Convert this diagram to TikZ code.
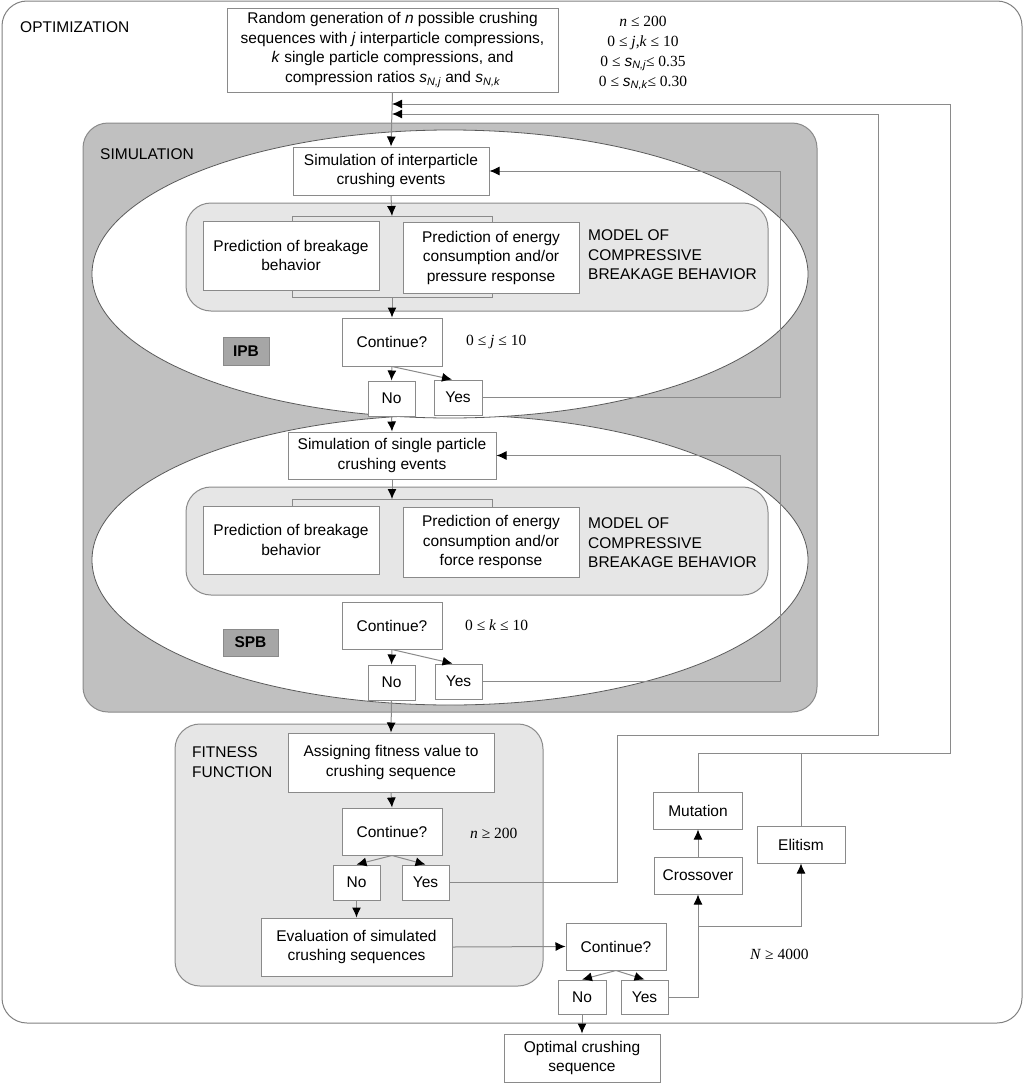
\documentclass[tikz,border=0pt]{standalone}
\usepackage{fontspec}
\setmainfont{Liberation Sans}
\newfontfamily\tms{Liberation Serif}
\newfontfamily\arl{Liberation Sans}
\usetikzlibrary{arrows.meta}
\definecolor{lg}{HTML}{8A8A8A}
\definecolor{eg}{HTML}{5A5A5A}
\definecolor{simfill}{HTML}{C0C0C0}
\definecolor{lightfill}{HTML}{E6E6E6}
\definecolor{tagfill}{HTML}{A6A6A6}
\newcommand{\sNj}{{\arl\itshape s\textsubscript{N,j}}}
\newcommand{\sNk}{{\arl\itshape s\textsubscript{N,k}}}
\begin{document}
\begin{tikzpicture}[x=1pt,y=-1pt,
  every node/.style={font=\fontsize{15.5}{19.5}\selectfont},
  box/.style={draw=lg, fill=white, line width=1pt, align=center, inner sep=0pt},
  lbl/.style={align=left, anchor=west, inner sep=0pt},
  tms/.style={font=\fontsize{15.5}{20}\selectfont\tms, align=center, inner sep=0pt},
  tag/.style={draw=lg, fill=tagfill, font=\fontsize{15.5}{19.5}\selectfont\bfseries, inner sep=0pt},
  arr/.style={draw=lg, line width=1pt, -{Latex[length=10pt,width=9pt,color=black]}},
  ln/.style={draw=lg, line width=1pt},
  region/.style={draw=lg, line width=1pt, rounded corners=25pt}
]
\useasboundingbox (0,0) rectangle (1024,1084);
% containers
\path[region, fill=white, draw=gray] (2,1) rectangle (1022,1023);
\node[lbl] (optlbl) at (20,27) {OPTIMIZATION};
\path[region, fill=simfill] (83,123) rectangle (817,712);
\node[lbl] (simlbl) at (100,154) {SIMULATION};
\path[draw=eg, line width=0.8pt, fill=white] (450,560) ellipse [x radius=358pt, y radius=145pt];
\path[draw=eg, line width=0.8pt, fill=white] (450,274) ellipse [x radius=358pt, y radius=144pt];
\path[region, fill=lightfill] (186,203) rectangle (768,311);
\path[region, fill=lightfill] (186,487) rectangle (768,595);
\path[region, fill=lightfill] (175,724) rectangle (543,986);
\node[lbl] (fitlbl) at (192,762) {FITNESS\\FUNCTION};
\path[ln] (292,216) rectangle (492,297);
\path[ln] (292,550) -- (292,499) -- (492,499) -- (492,550);

% top
\node[box, minimum width=331pt, minimum height=84pt] (rand) at (392.5,50)
  {Random generation of \textit{n} possible crushing\\sequences with \textit{j} interparticle compressions,\\\textit{k} single particle compressions, and\\compression ratios \sNj{} and \sNk};
\node[tms] (cons) at (643,53) {\textit{n} ≤ 200\\0 ≤ \textit{j},\textit{k} ≤ 10\\0 ≤ \sNj ≤ 0.35\\0 ≤ \sNk ≤ 0.30};

% IPB
\node[box, minimum width=196pt, minimum height=48pt] (sim1) at (391,171) {Simulation of interparticle\\crushing events};
\node[box, minimum width=176pt, minimum height=69pt] (pb1) at (291,255.5) {Prediction of breakage\\behavior};
\node[box, minimum width=176pt, minimum height=71pt] (pe1) at (491,257.5) {Prediction of energy\\consumption and/or\\pressure response};
\node[lbl] (mod1) at (588,255) {MODEL OF\\COMPRESSIVE\\BREAKAGE BEHAVIOR};
\node[box, minimum width=100pt, minimum height=48pt] (c1) at (392,342) {Continue?};
\node[box, minimum width=47pt, minimum height=35pt] (no1) at (391.5,398.5) {No};
\node[box, minimum width=48pt, minimum height=35pt] (yes1) at (458,397.5) {Yes};
\node[tag, minimum width=46pt, minimum height=28pt] (ipb) at (246,351) {IPB};
\node[tms, anchor=west] (jt) at (466,342) {0 ≤ \textit{j} ≤ 10};

% SPB
\node[box, minimum width=208pt, minimum height=47pt] (sim2) at (392,455.5) {Simulation of single particle\\crushing events};
\node[box, minimum width=176pt, minimum height=68pt] (pb2) at (291,540) {Prediction of breakage\\behavior};
\node[box, minimum width=176pt, minimum height=70pt] (pe2) at (491,542) {Prediction of energy\\consumption and/or\\force response};
\node[lbl] (mod2) at (588,543) {MODEL OF\\COMPRESSIVE\\BREAKAGE BEHAVIOR};
\node[box, minimum width=100pt, minimum height=47pt] (c2) at (392,625.5) {Continue?};
\node[box, minimum width=47pt, minimum height=35pt] (no2) at (391.5,682.5) {No};
\node[box, minimum width=47pt, minimum height=35pt] (yes2) at (458.5,681.5) {Yes};
\node[tag, minimum width=55pt, minimum height=27pt] (spb) at (250.5,642.5) {SPB};
\node[tms, anchor=west] (kt) at (465,625) {0 ≤ \textit{k} ≤ 10};

% fitness
\node[box, minimum width=206pt, minimum height=59pt] (assign) at (391,762.5) {Assigning fitness value to\\crushing sequence};
\node[box, minimum width=100pt, minimum height=47pt] (c3) at (392,831.5) {Continue?};
\node[tms, anchor=west] (nt) at (470,833) {\textit{n} ≥ 200};
\node[box, minimum width=47pt, minimum height=35pt] (no3) at (356.5,882.5) {No};
\node[box, minimum width=47pt, minimum height=35pt] (yes3) at (425.5,882.5) {Yes};
\node[box, minimum width=191pt, minimum height=58pt] (eval) at (356.5,947) {Evaluation of simulated\\crushing sequences};

% GA
\node[box, minimum width=100pt, minimum height=47pt] (c4) at (616,946.5) {Continue?};
\node[box, minimum width=48pt, minimum height=34pt] (no4) at (582,997) {No};
\node[box, minimum width=47pt, minimum height=34pt] (yes4) at (644.5,997) {Yes};
\node[box, minimum width=156pt, minimum height=48pt] (opt) at (582,1058) {Optimal crushing\\sequence};
\node[box, minimum width=88pt, minimum height=37pt] (cross) at (698,875.5) {Crossover};
\node[box, minimum width=89pt, minimum height=37pt] (mut) at (698,810.5) {Mutation};
\node[box, minimum width=88pt, minimum height=37pt] (elit) at (801,844.5) {Elitism};
\node[tms, anchor=west] (Nt) at (750,954) {\textit{N} ≥ 4000};

% coordinates
\coordinate (inA) at (392,104);
\coordinate (inB) at (392,114);
\coordinate (br1t) at (392,216);
\coordinate (br1b) at (392,297);
\coordinate (br2t) at (392,499);
\coordinate (c1s) at (c1.south);
\coordinate (c2s) at (c2.south);
\coordinate (c3s) at (c3.south);
\coordinate (c4s) at (c4.south);
\coordinate (split) at (698,926);

% connectors
\draw[arr] (rand.south) -- (sim1.north);
\draw[arr] (sim1.south) -- (br1t);
\draw[arr] (br1b) -- (c1.north);
\draw[arr] (c1s) -- (no1.north);
\draw[arr] (c1s) -- ([xshift=-6pt]yes1.north);
\draw[arr] (yes1.east) -- (780,397.5) -- (780,171) -- (sim1.east);
\draw[arr] (no1.south) -- (sim2.north);
\draw[arr] (sim2.south) -- (br2t);
\draw[arr] (c2s) -- (no2.north);
\draw[arr] (c2s) -- ([xshift=-6pt]yes2.north);
\draw[arr] (yes2.east) -- (780,681.5) -- (780,455.5) -- (sim2.east);
\draw[arr] (no2.south) -- (assign.north);
\draw[arr] (assign.south) -- (c3.north);
\draw[arr] (c3s) -- (no3.north);
\draw[arr] (c3s) -- (yes3.north);
\draw[arr] (no3.south) -- (eval.north);
\draw[arr] (eval.east) -- (c4.west);
\draw[arr] (c4s) -- (no4.north);
\draw[arr] (c4s) -- (yes4.north);
\draw[arr] (no4.south) -- (opt.north);
\draw[arr] (yes4.east) -- (698,997) -- (cross.south);
\draw[arr] (cross.north) -- (mut.south);
\draw[arr] (split) -- (801,926) -- (elit.south);
\draw[arr] (yes3.east) -- (617,882.5) -- (617,735) -- (878,735) -- (878,114) -- (inB);
\draw[arr] (mut.north) -- (698,753) -- (950,753) -- (950,104) -- (inA);
\draw[ln] (elit.north) -- (801,753);
\end{tikzpicture}
\end{document}
